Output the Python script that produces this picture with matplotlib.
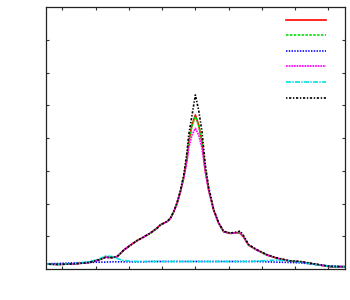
import matplotlib
matplotlib.use("Agg")
import matplotlib.pyplot as plt

x = [0, 40, 90, 130, 160, 180, 200, 215, 235, 255, 275, 295, 315, 335, 345, 365,
     375, 385, 395, 405, 415, 425, 430, 440, 450, 460, 470, 480, 490, 505, 520,
     535, 555, 575, 585, 595, 610, 635, 665, 695, 735, 765, 795, 825, 855, 900]

red = [0.15, 0.14, 0.16, 0.20, 0.28, 0.36, 0.35, 0.38, 0.58, 0.73, 0.87, 0.98, 1.10, 1.25, 1.35, 1.45,
       1.55, 1.75, 2.01, 2.36, 2.80, 3.39, 3.89, 4.40, 4.71, 4.40, 3.89, 3.03, 2.42, 1.80, 1.40,
       1.14, 1.09, 1.11, 1.09, 0.98, 0.73, 0.58, 0.43, 0.33, 0.24, 0.22, 0.17, 0.12, 0.07, 0.07]

green = [0.15, 0.14, 0.16, 0.20, 0.28, 0.36, 0.35, 0.38, 0.58, 0.73, 0.87, 0.98, 1.10, 1.25, 1.35, 1.45,
         1.55, 1.75, 2.01, 2.36, 2.80, 3.39, 3.89, 4.38, 4.66, 4.38, 3.89, 3.03, 2.42, 1.80, 1.40,
         1.14, 1.09, 1.11, 1.09, 0.98, 0.73, 0.58, 0.43, 0.33, 0.24, 0.22, 0.17, 0.12, 0.07, 0.07]

blue = [0.16, 0.17, 0.19, 0.20, 0.21, 0.21, 0.22, 0.22, 0.22, 0.22, 0.22, 0.22, 0.23, 0.23, 0.23, 0.23,
        0.23, 0.23, 0.23, 0.23, 0.23, 0.23, 0.23, 0.23, 0.23, 0.23, 0.23, 0.23, 0.23, 0.23, 0.23,
        0.23, 0.23, 0.23, 0.23, 0.23, 0.23, 0.23, 0.22, 0.21, 0.20, 0.19, 0.16, 0.12, 0.09, 0.07]

magenta = [0.15, 0.14, 0.16, 0.20, 0.28, 0.36, 0.35, 0.38, 0.58, 0.73, 0.87, 0.98, 1.10, 1.25, 1.35, 1.45,
           1.55, 1.75, 2.01, 2.36, 2.78, 3.30, 3.70, 4.10, 4.30, 4.10, 3.70, 2.95, 2.40, 1.80, 1.40,
           1.14, 1.09, 1.11, 1.09, 0.98, 0.73, 0.58, 0.43, 0.33, 0.24, 0.22, 0.17, 0.12, 0.07, 0.07]

cyan = [0.15, 0.14, 0.17, 0.22, 0.30, 0.40, 0.38, 0.32, 0.26, 0.24, 0.23, 0.23, 0.23, 0.23, 0.23, 0.23,
        0.23, 0.23, 0.23, 0.23, 0.23, 0.23, 0.23, 0.23, 0.23, 0.23, 0.23, 0.23, 0.23, 0.23, 0.23,
        0.23, 0.23, 0.23, 0.23, 0.23, 0.23, 0.24, 0.26, 0.27, 0.25, 0.21, 0.16, 0.12, 0.08, 0.07]

black = [0.15, 0.14, 0.16, 0.20, 0.28, 0.36, 0.35, 0.38, 0.58, 0.73, 0.87, 0.98, 1.10, 1.25, 1.35, 1.45,
         1.55, 1.76, 2.03, 2.40, 2.87, 3.59, 4.10, 4.70, 5.32, 4.85, 4.20, 3.18, 2.50, 1.82, 1.42,
         1.15, 1.10, 1.13, 1.16, 1.02, 0.75, 0.59, 0.44, 0.34, 0.25, 0.23, 0.18, 0.13, 0.08, 0.07]

series = [red, green, blue, magenta, cyan, black]
colors = ["#ff0000", "#00e000", "#0000ff", "#ff00ff", "#00e0e0", "#000000"]
dashes = [None, (1.8, 1.0), (1.0, 1.0), (1.3, 0.6), (3.5, 1.0, 1.0, 1.0), (1.0, 1.2, 1.6, 1.2)]

plt.rcParams["lines.scale_dashes"] = False
fig = plt.figure(figsize=(3.5, 3.0), dpi=100)
ax = fig.add_axes([0.1306, 0.1033, 0.8551, 0.8724])

handles = []
for ys, c, d in zip(series, colors, dashes):
    if d is None:
        ln, = ax.plot(x, ys, color=c, lw=1.2)
    else:
        ln, = ax.plot(x, ys, color=c, lw=1.2, dashes=d)
    handles.append(ln)

ax.set_xlim(0, 900)
ax.set_ylim(0, 8)
ax.set_xticks(range(50, 900, 100))
ax.set_yticks(range(1, 8))
ax.tick_params(direction="in", length=2.4, width=0.8, top=True, right=True,
               labelbottom=False, labelleft=False, color="#333333")
for s in ax.spines.values():
    s.set_linewidth(0.9)
    s.set_color("#222222")

ax.legend(handles, [" "] * 6, loc="upper right", frameon=False, fontsize=8,
          handlelength=3.6, labelspacing=0.5, handletextpad=0.0,
          bbox_to_anchor=(0.962, 0.985), borderaxespad=0.0)

fig.savefig("out.png", dpi=100)
